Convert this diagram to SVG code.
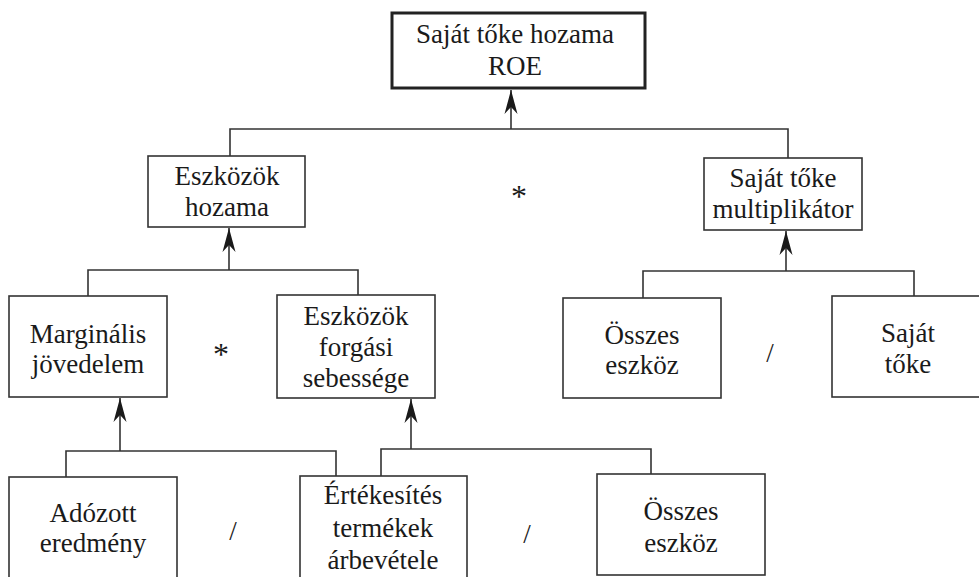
<svg xmlns="http://www.w3.org/2000/svg" width="979" height="577" viewBox="0 0 979 577">
<defs>
<style>
.box{fill:#fff;stroke:#333;stroke-width:1.6}
.main{fill:#fff;stroke:#222;stroke-width:3}
.t{font-family:"Liberation Serif","Times New Roman",serif;font-size:27px;fill:#1a1a1a;text-anchor:middle}
.op{font-family:"Liberation Serif","Times New Roman",serif;font-size:27px;fill:#1a1a1a;text-anchor:middle}
.ast{font-family:"Liberation Serif","Times New Roman",serif;font-size:32px;fill:#1a1a1a;text-anchor:middle}
.c{fill:none;stroke:#333;stroke-width:1.6}
</style>
<marker id="ah" viewBox="-25 -8 26 16" markerWidth="26" markerHeight="16" refX="0" refY="0" markerUnits="userSpaceOnUse" orient="auto">
<path d="M0,0 L-24,-6.5 L-17,0 L-24,6.5 Z" fill="#1a1a1a"/>
</marker>
</defs>
<rect width="979" height="577" fill="#fff"/>
<g id="connectors">
<path class="c" d="M230,156 V129 H788 V158"/>
<line class="c" x1="511" y1="129" x2="511" y2="90" marker-end="url(#ah)"/>
<path class="c" d="M88,296 V270 H358 V295"/>
<line class="c" x1="229" y1="270" x2="229" y2="228" marker-end="url(#ah)"/>
<path class="c" d="M643,298 V271 H914 V296"/>
<line class="c" x1="786" y1="271" x2="786" y2="231" marker-end="url(#ah)"/>
<path class="c" d="M66,477 V451 H336 V476"/>
<line class="c" x1="120" y1="451" x2="120" y2="398" marker-end="url(#ah)"/>
<path class="c" d="M381,476 V449 H651 V474"/>
<line class="c" x1="411" y1="449" x2="411" y2="399" marker-end="url(#ah)"/>
</g>
<g id="roe">
<rect class="main" x="392" y="13" width="253" height="75"/>
<text class="t" x="515" y="43">Saját tőke hozama</text>
<text class="t" x="515" y="75">ROE</text>
</g>
<g id="eszkozok-hozama">
<rect class="box" x="148" y="156" width="157" height="71"/>
<text class="t" x="227" y="185">Eszközök</text>
<text class="t" x="227" y="216">hozama</text>
</g>
<g id="multiplikator">
<rect class="box" x="704" y="158" width="158" height="72"/>
<text class="t" x="783" y="187">Saját tőke</text>
<text class="t" x="783" y="218">multiplikátor</text>
</g>
<g id="marginalis">
<rect class="box" x="9" y="296" width="158" height="101"/>
<text class="t" x="88" y="343">Marginális</text>
<text class="t" x="88" y="373">jövedelem</text>
</g>
<g id="forgasi">
<rect class="box" x="277" y="295" width="158" height="103"/>
<text class="t" x="356" y="325">Eszközök</text>
<text class="t" x="356" y="356">forgási</text>
<text class="t" x="356" y="387">sebessége</text>
</g>
<g id="osszes-eszkoz-1">
<rect class="box" x="563" y="298" width="158" height="100"/>
<text class="t" x="642" y="344">Összes</text>
<text class="t" x="642" y="374">eszköz</text>
</g>
<g id="sajat-toke">
<rect class="box" x="832" y="296" width="160" height="101"/>
<text class="t" x="908" y="342">Saját</text>
<text class="t" x="908" y="373">tőke</text>
</g>
<g id="adozott">
<rect class="box" x="9" y="477" width="168" height="110"/>
<text class="t" x="93" y="522">Adózott</text>
<text class="t" x="93" y="552">eredmény</text>
</g>
<g id="ertekesites">
<rect class="box" x="300" y="476" width="167" height="110"/>
<text class="t" x="383" y="504">Értékesítés</text>
<text class="t" x="383" y="537">termékek</text>
<text class="t" x="383" y="569">árbevétele</text>
</g>
<g id="osszes-eszkoz-2">
<rect class="box" x="597" y="474" width="168" height="101"/>
<text class="t" x="681" y="520">Összes</text>
<text class="t" x="681" y="552">eszköz</text>
</g>
<g id="operators">
<text class="ast" x="519" y="207">*</text>
<text class="ast" x="221" y="365">*</text>
<text class="op" x="770" y="362">/</text>
<text class="op" x="233" y="540">/</text>
<text class="op" x="527" y="543">/</text>
</g>
</svg>
